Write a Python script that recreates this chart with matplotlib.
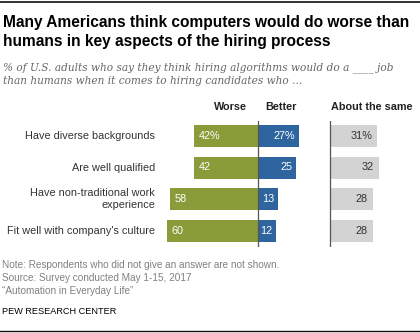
import matplotlib
matplotlib.use("Agg")
import matplotlib.pyplot as plt
from matplotlib.lines import Line2D

# Survey results (% of U.S. adults)
items = ["Have diverse backgrounds", "Are well qualified",
         "Have non-traditional work\nexperience", "Fit well with company's culture"]
worse = [42, 42, 58, 60]
better = [27, 25, 13, 12]
same = [31, 32, 28, 28]

GREEN = "#8a9b39"
BLUE = "#2e659f"
GRAY = "#d3d3d3"
AXIS = "#555555"

W, H = 420, 333
fig = plt.figure(figsize=(W / 100, H / 100), dpi=100)
plt.rcParams["font.family"] = ["Liberation Sans", "DejaVu Sans"]


def fx(px):
    return px / W


def fy(px):
    return 1 - px / H


# pixel geometry of the plotting area
SCALE = 1.52          # px per percentage point
ROW0, STEP = 136, 31.5
TOP, BOT = 121, 247
ylim = ((BOT - ROW0) / STEP, (TOP - ROW0) / STEP)
FS = 7.8


def make_axes(left_px, right_px, zero_px):
    ax = fig.add_axes([fx(left_px), fy(BOT), fx(right_px - left_px), (BOT - TOP) / H])
    ax.set_xlim((left_px - zero_px) / SCALE, (right_px - zero_px) / SCALE)
    ax.set_ylim(*ylim)
    ax.axis("off")
    ax.axvline(0, color=AXIS, lw=0.9, zorder=3)
    return ax


rows = range(len(items))
bh = 22 / STEP

# worse / better diverging bars
ax = make_axes(160, 320, 258)
ax.barh(rows, [-v for v in worse], height=bh, color=GREEN)
ax.barh(rows, better, height=bh, color=BLUE)
for i, (w, b) in enumerate(zip(worse, better)):
    suf = "%" if i == 0 else ""
    ax.text(-w + 4.5 / SCALE, i, f"{w}{suf}", color="white", fontsize=FS,
            va="center", ha="left")
    ax.text(b - 3.5 / SCALE, i, f"{b}{suf}", color="white", fontsize=FS,
            va="center", ha="right")

# about the same
ax2 = make_axes(325, 415, 330)
ax2.barh(rows, same, height=bh, color=GRAY)
for i, s in enumerate(same):
    suf = "%" if i == 0 else ""
    ax2.text(s - 4.5 / SCALE, i, f"{s}{suf}", color="#333333", fontsize=FS,
             va="center", ha="right")

# row labels
for i, lab in enumerate(items):
    fig.text(fx(155), fy(ROW0 + STEP * i), lab, ha="right", va="center",
             fontsize=FS, color="#333333", linespacing=1.3)

# column headers
hdr = dict(fontsize=FS, fontweight="bold", color="#222222", va="center")
fig.text(fx(230), fy(107), "Worse", ha="center", **hdr)
fig.text(fx(281), fy(107), "Better", ha="center", **hdr)
fig.text(fx(331), fy(107), "About the same", ha="left", **hdr)

# title and subtitle
fig.text(fx(3), fy(32), "Many Americans think computers would do worse than\n"
         "humans in key aspects of the hiring process",
         ha="left", va="center", fontsize=11.2, fontweight="bold",
         color="#000000", linespacing=1.35)
fig.text(fx(3), fy(74), "% of U.S. adults who say they think hiring algorithms would do a ____ job\n"
         "than humans when it comes to hiring candidates who ...",
         ha="left", va="center", fontsize=7.6, style="italic",
         family=["DejaVu Serif"], color="#666666",
         linespacing=1.35)

# footer
fig.text(fx(2), fy(278), "Note: Respondents who did not give an answer are not shown.\n"
         "Source: Survey conducted May 1-15, 2017\n"
         "\u201cAutomation in Everyday Life\u201d",
         ha="left", va="center", fontsize=7.2, color="#808080", linespacing=1.32)
fig.text(fx(2), fy(311), "PEW RESEARCH CENTER", ha="left", va="center",
         fontsize=6.6, color="#000000")

# top and bottom rules
fig.add_artist(Line2D([0, 1], [fy(1.5), fy(1.5)], color="#111111", lw=1.2))
fig.add_artist(Line2D([0, 1], [fy(331), fy(331)], color="#111111", lw=1.0))

fig.savefig("out.png", dpi=100)
